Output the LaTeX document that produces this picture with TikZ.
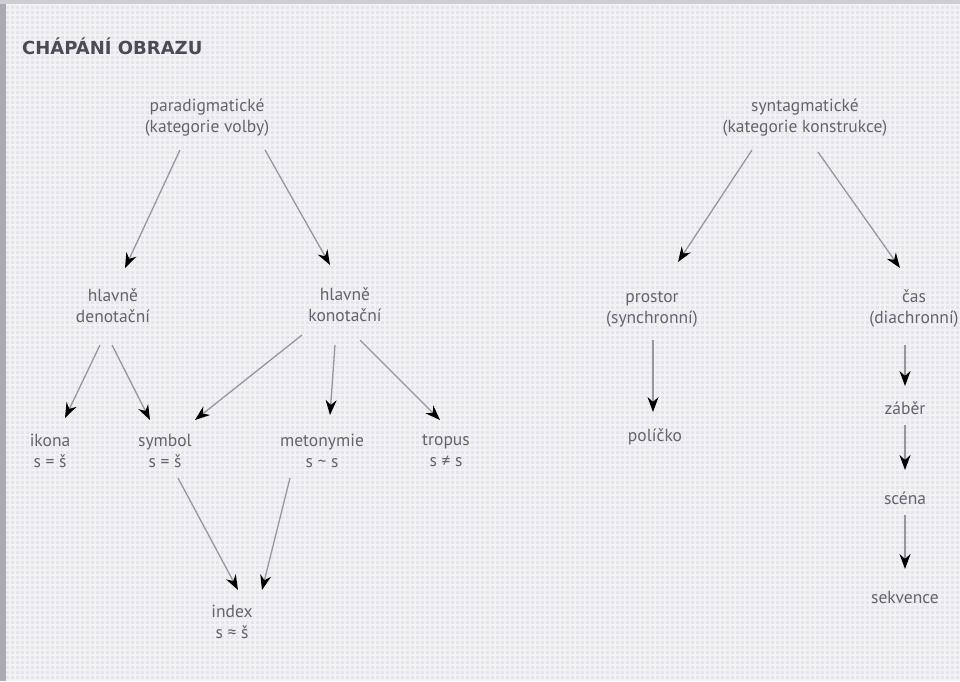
\documentclass[tikz,border=0pt]{standalone}
\usepackage{fontspec}
\setmainfont{PT Sans}
\newfontfamily\ttlfont{DejaVu Sans}
\usetikzlibrary{arrows.meta,calc}
\definecolor{bgc}{RGB}{228,228,234}
\definecolor{txt}{RGB}{100,100,110}
\definecolor{ttl}{RGB}{75,75,85}
\definecolor{lin}{RGB}{150,150,158}
\definecolor{edgeL}{RGB}{170,170,178}
\definecolor{edgeT}{RGB}{205,205,212}
\tikzset{
  lbl/.style={text=txt,align=center,inner sep=0pt,font=\fontsize{17.5}{21}\selectfont},
  arr/.style={draw=lin,line width=1.3pt,-{Stealth[length=15pt,width=11pt,black]}},
}
\begin{document}
\begin{tikzpicture}[x=1pt,y=-1pt]
\useasboundingbox (0,0) rectangle (960,681);
\fill[bgc] (0,0) rectangle (960,681);
\draw[white,line width=1.6pt,opacity=0.55,step=5pt] (0,0) grid (960,681);
\fill[edgeL] (0,0) rectangle (6,681);
\fill[edgeT] (0,0) rectangle (960,4);

\node[anchor=west,text=ttl,inner sep=0pt,font=\ttlfont\fontsize{18}{20}\bfseries\selectfont] (title) at (22,46) {CHÁPÁNÍ OBRAZU};

\node[lbl] (par) at (207,118) {paradigmatické\\(kategorie volby)};
\node[lbl] (syn) at (805,118) {syntagmatické\\(kategorie konstrukce)};
\node[lbl] (den) at (113,306) {hlavně\\denotační};
\node[lbl] (kon) at (345,305) {hlavně\\konotační};
\node[lbl] (ikona) at (50,451) {ikona\\s = š};
\node[lbl] (symbol) at (165,451) {symbol\\s = š};
\node[lbl] (meto) at (322,451) {metonymie\\s \textasciitilde{} s};
\node[lbl] (tropus) at (446,451) {tropus\\s ≠ s};
\node[lbl] (index) at (232,622) {index\\s ≈ š};
\node[lbl] (prostor) at (652,309) {prostor\\(synchronní)};
\node[lbl] (cas) at (914,309) {čas\\(diachronní)};
\node[lbl] (policko) at (655,437) {políčko};
\node[lbl] (zaber) at (905,408) {záběr};
\node[lbl] (scena) at (905,498) {scéna};
\node[lbl] (sekv) at (905,597) {sekvence};

\draw[arr] ($(par)+(-27,32)$) -- ($(den)+(12,-38)$);
\draw[arr] ($(par)+(58,32)$) -- ($(kon)+(-15,-40)$);
\draw[arr] ($(den)+(-13,39)$) -- ($(ikona)+(15,-33)$);
\draw[arr] ($(den)+(-1,39)$) -- ($(symbol)+(-15,-31)$);
\draw[arr] ($(kon)+(-43,30)$) -- ($(symbol)+(30,-31)$);
\draw[arr] ($(kon)+(-10,40)$) -- ($(meto)+(8,-36)$);
\draw[arr] ($(kon)+(15,35)$) -- ($(tropus)+(-6,-31)$);
\draw[arr] ($(symbol)+(13,27)$) -- ($(index)+(6,-32)$);
\draw[arr] ($(meto)+(-32,27)$) -- ($(index)+(30,-32)$);
\draw[arr] ($(syn)+(-53,32)$) -- ($(prostor)+(26,-47)$);
\draw[arr] ($(syn)+(13,34)$) -- ($(cas)+(-14,-41)$);
\draw[arr] ($(prostor)+(1,31)$) -- ($(policko)+(-2,-25)$);
\draw[arr] ($(cas)+(-9,36)$) -- ($(zaber)+(0,-22)$);
\draw[arr] ($(zaber)+(0,17)$) -- ($(scena)+(0,-28)$);
\draw[arr] ($(scena)+(0,17)$) -- ($(sekv)+(0,-28)$);
\end{tikzpicture}
\end{document}
